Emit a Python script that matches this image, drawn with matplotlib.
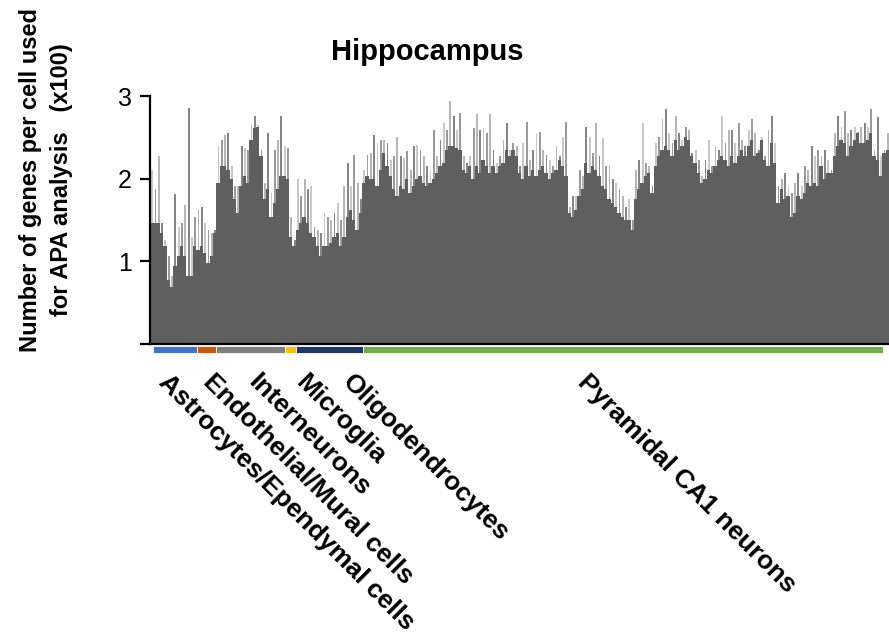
import matplotlib
matplotlib.use("Agg")
import matplotlib.pyplot as plt
import matplotlib.transforms as mtransforms
import numpy as np

plt.rcParams['font.family'] = ['Liberation Sans', 'DejaVu Sans']
plt.rcParams['font.weight'] = 'bold'

# genes per cell (x100), binned cells in plotting order
# level = typical value in the bin, peak = highest cell in the bin
level = [
    1.46, 1.46, 1.46, 1.34, 1.18, 0.78, 0.69, 0.94, 1.06, 1.18,
    1.06, 0.82, 0.82, 1.18, 1.14, 1.18, 1.10, 0.98, 1.06, 1.34,
    1.95, 2.15, 2.15, 2.11, 1.99, 1.75, 1.58, 1.91, 2.03, 1.95,
    2.47, 2.61, 2.63, 2.27, 1.75, 1.87, 1.54, 1.71, 1.87, 2.03,
    2.03, 1.99, 1.30, 1.18, 1.38, 1.46, 1.54, 1.46, 1.34, 1.30,
    1.18, 1.06, 1.18, 1.18, 1.22, 1.30, 1.34, 1.18, 1.30, 1.54,
    1.62, 1.50, 1.38, 1.58, 1.95, 2.03, 1.99, 1.99, 1.91, 2.11,
    2.31, 2.15, 2.03, 1.87, 1.79, 1.91, 1.87, 1.99, 1.83, 1.91,
    1.99, 2.03, 1.95, 1.91, 1.95, 1.99, 2.07, 2.15, 2.19, 2.35,
    2.39, 2.39, 2.37, 2.35, 2.11, 2.07, 2.15, 1.99, 2.15, 2.07,
    2.23, 2.15, 2.07, 2.15, 2.07, 2.15, 2.19, 2.35, 2.27, 2.35,
    2.27, 2.07, 1.99, 2.15, 2.03, 2.11, 2.03, 2.11, 2.15, 2.07,
    1.99, 2.07, 2.11, 2.23, 2.15, 2.03, 1.58, 1.54, 1.62, 1.79,
    1.87, 2.19, 2.07, 2.15, 2.11, 2.03, 1.91, 1.87, 1.75, 1.71,
    1.66, 1.58, 1.54, 1.50, 1.50, 1.38, 1.75, 1.87, 1.95, 2.03,
    2.07, 1.83, 2.15, 2.27, 2.35, 2.39, 2.35, 2.27, 2.47, 2.35,
    2.39, 2.51, 2.47, 2.27, 2.19, 2.07, 1.95, 1.99, 2.11, 2.07,
    2.15, 2.23, 2.27, 2.23, 2.15, 2.27, 2.19, 2.27, 2.35, 2.27,
    2.39, 2.47, 2.27, 2.31, 2.47, 2.23, 2.15, 2.43, 2.19, 1.71,
    1.87, 1.75, 1.79, 1.54, 1.58, 1.79, 1.75, 1.83, 1.95, 1.91,
    1.95, 1.91, 2.15, 1.99, 2.07, 2.07, 2.27, 2.39, 2.47, 2.43,
    2.27, 2.39, 2.47, 2.55, 2.43, 2.43, 2.47, 2.55, 2.27, 2.23,
    2.03, 2.31, 2.35,
]
peak = [
    2.11, 1.87, 2.27, 1.46, 1.26, 1.06, 0.82, 1.81, 1.42, 1.46,
    1.68, 2.86, 1.30, 1.54, 1.62, 1.66, 1.46, 1.38, 1.34, 1.38,
    2.39, 2.47, 2.53, 2.55, 2.15, 1.91, 1.91, 2.39, 2.37, 2.35,
    2.65, 2.76, 2.65, 2.35, 1.95, 2.55, 1.83, 2.35, 2.47, 2.76,
    2.39, 2.37, 1.54, 1.26, 1.99, 1.79, 1.99, 1.87, 1.91, 1.42,
    1.38, 1.34, 1.58, 1.54, 1.50, 1.58, 1.71, 1.50, 1.91, 2.19,
    1.91, 2.29, 1.95, 1.75, 2.11, 2.29, 2.31, 2.53, 2.43, 2.47,
    2.47, 2.43, 2.23, 2.27, 2.51, 2.27, 2.25, 2.33, 2.11, 2.39,
    2.41, 2.35, 2.27, 2.15, 2.11, 2.59, 2.27, 2.47, 2.67, 2.59,
    2.94, 2.76, 2.59, 2.80, 2.27, 2.19, 2.27, 2.61, 2.78, 2.59,
    2.61, 2.55, 2.78, 2.35, 2.19, 2.27, 2.47, 2.67, 2.35, 2.43,
    2.39, 2.15, 2.43, 2.69, 2.23, 2.35, 2.55, 2.57, 2.35, 2.29,
    2.23, 2.15, 2.39, 2.27, 2.51, 2.69, 1.66, 1.79, 1.79, 2.11,
    2.03, 2.63, 2.51, 2.31, 2.67, 2.27, 2.49, 2.15, 2.17, 1.99,
    1.95, 1.87, 1.79, 1.66, 1.75, 1.50, 2.11, 2.23, 2.67, 2.19,
    2.15, 1.91, 2.43, 2.51, 2.72, 2.84, 2.55, 2.43, 2.76, 2.55,
    2.47, 2.63, 2.59, 2.31, 2.35, 2.23, 2.03, 2.23, 2.47, 2.15,
    2.39, 2.35, 2.76, 2.43, 2.59, 2.59, 2.43, 2.67, 2.47, 2.39,
    2.59, 2.72, 2.55, 2.35, 2.51, 2.27, 2.59, 2.76, 2.43, 1.91,
    1.99, 2.07, 1.91, 1.83, 1.95, 2.07, 1.91, 2.15, 2.11, 2.39,
    2.27, 2.35, 2.27, 2.35, 2.23, 2.11, 2.55, 2.76, 2.63, 2.82,
    2.55, 2.59, 2.63, 2.57, 2.63, 2.67, 2.63, 2.84, 2.35, 2.74,
    2.27, 2.35, 2.55,
]

cell_types = ['Astrocytes/Ependymal cells', 'Endothelial/Mural cells',
              'Interneurons', 'Microglia', 'Oligodendrocytes',
              'Pyramidal CA1 neurons']
type_bins = [13.3, 5.7, 20.9, 3.3, 20.2, 156.8]
type_colors = ['#4472C4', '#C55A11', '#7F7F7F', '#FFC000', '#203864', '#70AD47']

level = np.array(level)
peak = np.array(peak)
x = np.arange(len(level))

fig = plt.figure(figsize=(8.89, 6.36), dpi=100)
ax = fig.add_axes([150 / 889, 1 - 344 / 636, 739 / 889, 248 / 636])

ax.bar(x, level, width=1.0, color='#5f5f5f', linewidth=0, antialiased=False)
spike_cols = ['#c8c8c8', '#9a9a9a', '#b6b6b6', '#858585']
ax.bar(x + 0.15, peak - level, bottom=level, width=0.55,
       color=[spike_cols[i % 4] for i in x], linewidth=0)

ax.set_xlim(-0.5, len(level) - 0.5)
ax.set_ylim(0, 3.0)
ax.set_yticks([0, 1, 2, 3])
ax.set_yticklabels(['', '1', '2', '3'], fontsize=18, fontweight='normal')
ax.tick_params(axis='y', length=7, width=1.6, pad=6)
ax.set_xticks([])
for s in ['top', 'right']:
    ax.spines[s].set_visible(False)
for s in ['left', 'bottom']:
    ax.spines[s].set_linewidth(1.6)

# cell-type band under the x axis
trans = mtransforms.blended_transform_factory(ax.transData, ax.transAxes)
start = 0.4
for n, c in zip(type_bins, type_colors):
    ax.add_patch(plt.Rectangle((start, -0.036), n, 0.029, transform=trans,
                               facecolor=c, edgecolor='white', linewidth=0.6,
                               clip_on=False))
    start += n

label_x = [5.8, 19.3, 32.8, 47.2, 61.3, 132.2]
for name, lx in zip(cell_types, label_x):
    ax.text(lx, -0.103, name, transform=trans, rotation=-45,
            rotation_mode='anchor', ha='left', va='top', fontsize=19,
            fontweight='bold')

fig.text(427 / 889, 1 - 52 / 636, 'Hippocampus', ha='center', va='center',
         fontsize=21, fontweight='bold')
fig.text(46 / 889, 1 - 180 / 636,
         'Number of genes per cell used\nfor APA analysis   (x100)',
         rotation=90, ha='center', va='center', multialignment='center',
         fontsize=17, fontweight='bold', linespacing=1.4)

fig.savefig('out.png', dpi=100)
